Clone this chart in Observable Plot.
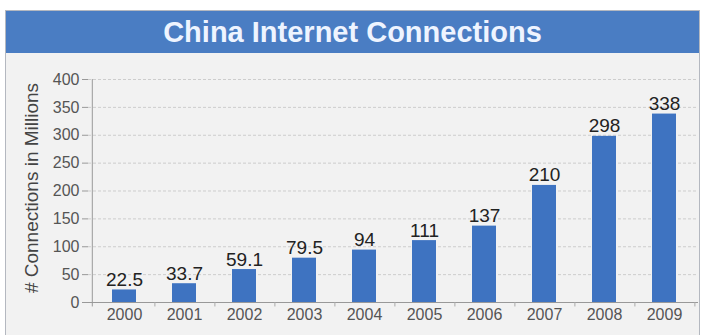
<!DOCTYPE html>
<html>
<head>
<meta charset="utf-8">
<script src="https://cdn.jsdelivr.net/npm/d3@7"></script>
<script src="https://cdn.jsdelivr.net/npm/@observablehq/plot@0.6"></script>
<style>
  html, body { margin: 0; padding: 0; background: #ffffff; overflow: hidden; }
  #box {
    position: absolute; left: 5px; top: 10px; width: 695px; height: 330px;
    border: 1px solid #b4b8c0; background: #f2f2f2; box-sizing: border-box;
  }
  #title {
    height: 42px; line-height: 43px; background: #4a7dc3; color: #eef4ff;
    font-family: "Liberation Sans", Arial, sans-serif; font-weight: bold;
    font-size: 29px; text-align: center;
  }
  #chart svg { display: block; }
</style>
</head>
<body>
<div id="box">
  <div id="title">China Internet Connections</div>
  <div id="chart"></div>
</div>
<script>
const years = ["2000","2001","2002","2003","2004","2005","2006","2007","2008","2009"];
const connections = [22.5, 33.7, 59.1, 79.5, 94, 111, 137, 210, 298, 338];
const valueLabels = ["22.5","33.7","59.1","79.5","94","111","137","210","298","338"];
const yTicks = [0, 50, 100, 150, 200, 250, 300, 350, 400];
const yTitle = "# Connections in Millions";

const data = years.map((y, i) => ({year: y, value: connections[i], label: valueLabels[i]}));

const chart = Plot.plot({
  width: 693,
  height: 282,
  marginTop: 26,
  marginBottom: 33,
  marginLeft: 82,
  marginRight: 1,
  style: {background: "transparent", fontFamily: "Liberation Sans, Arial, sans-serif", color: "#555"},
  x: {domain: years, paddingInner: 0.605, paddingOuter: 0.3, insetLeft: 2, label: null},
  y: {domain: [0, 400], ticks: yTicks, label: null},
  marks: [
    Plot.gridY(yTicks.filter(d => d > 0), {stroke: "#cdcdcd", strokeOpacity: 1, strokeDasharray: "3,2"}),
    Plot.barY(data, {x: "year", y: "value", fill: "#3e73c1"}),
    Plot.text(data, {x: "year", y: "value", text: "label", lineAnchor: "bottom", dy: -4, fontSize: 19, fill: "#222"}),
    Plot.ruleY([0], {stroke: "#999"}),
    Plot.ruleX(years, {x: d => d, dx: 30.4, y1: 0, y2: -8, stroke: "#aaa"}),
    Plot.ruleX([years[0]], {x: d => d, dx: -32.2, y1: -8, y2: 400, stroke: "#999"}),
    Plot.axisY(yTicks, {tickSize: 6, tickPadding: 3, fontSize: 16, fill: "#555", stroke: "#999", label: null}),
    Plot.axisX(years, {tickSize: 0, tickPadding: 6, fontSize: 16, fill: "#555", label: null}),
    Plot.text([yTitle], {frameAnchor: "left", textAnchor: "middle", dx: -57, dy: -3, rotate: -90, fontSize: 19, fill: "#444"})
  ]
});
document.getElementById("chart").appendChild(chart);
</script>
</body>
</html>
